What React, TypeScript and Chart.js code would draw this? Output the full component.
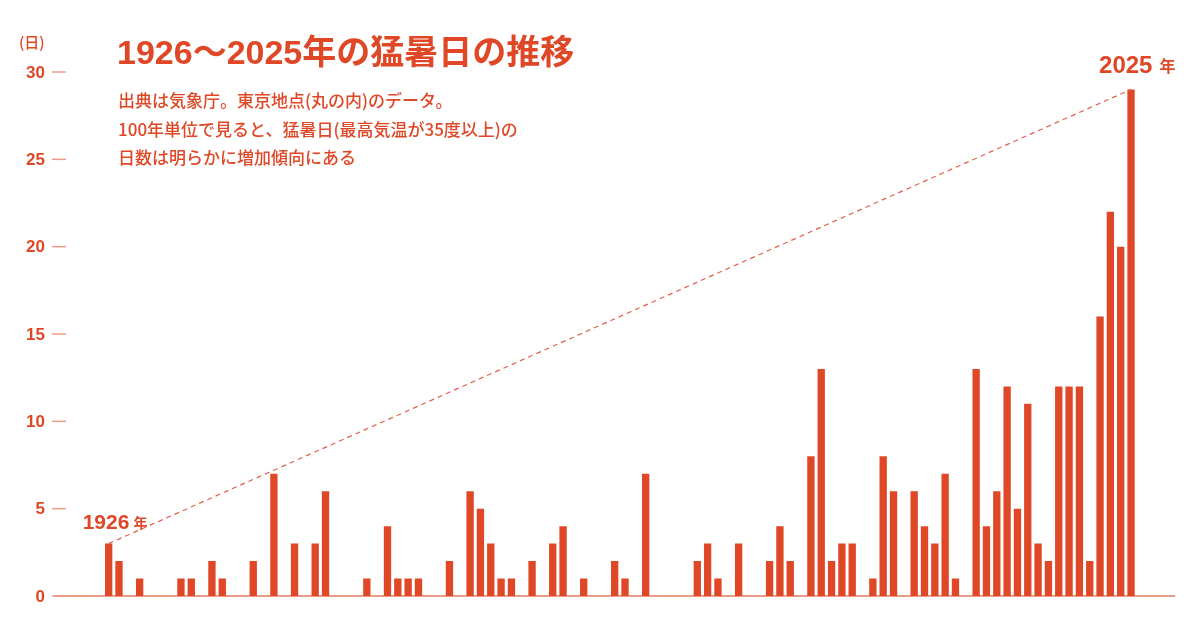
import { useEffect, useRef } from 'react';
import { Chart, ChartConfiguration, Plugin, registerables } from 'chart.js';

Chart.register(...registerables);

// 東京（丸の内）の猛暑日日数、1926〜2025年
const years: string[] = Array.from({ length: 100 }, (_, i) => String(1926 + i));
const hotDays: number[] = [
  3, 2, 0, 1, 0, 0, 0, 1, 1, 0, // 1926-1935
  2, 1, 0, 0, 2, 0, 7, 0, 3, 0, // 1936-1945
  3, 6, 0, 0, 0, 1, 0, 4, 1, 1, // 1946-1955
  1, 0, 0, 2, 0, 6, 5, 3, 1, 1, // 1956-1965
  0, 2, 0, 3, 4, 0, 1, 0, 0, 2, // 1966-1975
  1, 0, 7, 0, 0, 0, 0, 2, 3, 1, // 1976-1985
  0, 3, 0, 0, 2, 4, 2, 0, 8, 13, // 1986-1995
  2, 3, 3, 0, 1, 8, 6, 0, 6, 4, // 1996-2005
  3, 7, 1, 0, 13, 4, 6, 12, 5, 11, // 2006-2015
  3, 2, 12, 12, 12, 2, 16, 22, 20, 29, // 2016-2025
];
const yTicks: number[] = [0, 5, 10, 15, 20, 25, 30];

const RED = '#df4726';
const SALMON = '#eb9c88';
const JP = '"Noto Sans CJK JP", sans-serif';
const NUM = '"Liberation Sans", "Noto Sans CJK JP", sans-serif';

const last = hotDays.length - 1;
const trend = hotDays.map((v, i) => (i === 0 || i === last ? v : null));

const decor: Plugin<'bar'> = {
  id: 'decor',
  beforeDatasetsDraw(chart) {
    const { ctx, chartArea, scales } = chart;
    const y = scales.y;
    ctx.save();
    // baseline
    const y0 = y.getPixelForValue(0);
    ctx.strokeStyle = SALMON;
    ctx.lineWidth = 2;
    ctx.beginPath();
    ctx.moveTo(chartArea.left - 51, y0);
    ctx.lineTo(chartArea.right + 39, y0);
    ctx.stroke();
    // y ticks
    ctx.font = `bold 17px ${NUM}`;
    ctx.fillStyle = RED;
    ctx.textAlign = 'right';
    ctx.textBaseline = 'middle';
    ctx.lineWidth = 1.5;
    yTicks.forEach((t) => {
      const py = y.getPixelForValue(t);
      ctx.fillText(String(t), 45, py + 1);
      if (t !== 0) {
        ctx.beginPath();
        ctx.moveTo(52, py);
        ctx.lineTo(66, py);
        ctx.stroke();
      }
    });
    ctx.restore();
  },
  afterDatasetsDraw(chart) {
    const { ctx, scales } = chart;
    const x = scales.x;
    const y = scales.y;
    const label = (i: number, dx: number, dy: number, size: number, kSize: number, gap: number) => {
      const px = x.getPixelForValue(i) + dx;
      const py = y.getPixelForValue(hotDays[i]) + dy;
      ctx.save();
      ctx.fillStyle = RED;
      ctx.textBaseline = 'alphabetic';
      ctx.textAlign = 'left';
      ctx.font = `bold ${size}px ${NUM}`;
      const yr = years[i];
      ctx.fillText(yr, px, py);
      const w = ctx.measureText(yr).width;
      ctx.font = `bold ${kSize}px ${JP}`;
      ctx.fillText('年', px + w + gap, py - 1);
      ctx.restore();
    };
    label(0, -26, -15, 21, 14, 4);
    label(last, -32, -16, 24, 16, 7);
  },
};

export default function App() {
  const canvasRef = useRef<HTMLCanvasElement>(null);

  useEffect(() => {
    if (!canvasRef.current) return;
    const config: ChartConfiguration<'bar'> = {
      type: 'bar',
      data: {
        labels: years,
        datasets: [
          {
            type: 'line' as any,
            label: 'trend',
            data: trend as any,
            borderColor: '#e0604c',
            borderWidth: 1.2,
            borderDash: [5, 4],
            pointRadius: 0,
            spanGaps: true,
            order: 0,
          } as any,
          {
            label: '猛暑日',
            data: hotDays,
            backgroundColor: RED,
            borderWidth: 0,
            barPercentage: 0.71,
            categoryPercentage: 1,
            order: 1,
          },
        ],
      },
      options: {
        responsive: false,
        animation: false,
        layout: { padding: { left: 103.5, right: 63.8, top: 72, bottom: 34 } },
        plugins: { legend: { display: false }, tooltip: { enabled: false } },
        scales: {
          x: { display: false, offset: true },
          y: { display: false, min: 0, max: 30 },
        },
      },
      plugins: [decor],
    };
    const chart = new Chart(canvasRef.current, config);
    return () => chart.destroy();
  }, []);

  return (
    <div style={{ position: 'absolute', left: 0, top: 0, width: 1200, height: 630, background: '#fff', color: RED }}>
      <canvas ref={canvasRef} width={1200} height={630} style={{ position: 'absolute', left: 0, top: 0 }} />
      <div style={{ position: 'absolute', left: 19, top: 33, fontFamily: JP, fontSize: 15, lineHeight: '18px', fontWeight: 500 }}>
        (日)
      </div>
      <div style={{ position: 'absolute', left: 117, top: 34, fontFamily: NUM, fontSize: 34, lineHeight: '36px', fontWeight: 'bold', whiteSpace: 'nowrap' }}>
        1926～2025年の猛暑日の推移
      </div>
      <div style={{ position: 'absolute', left: 118, top: 86, fontFamily: JP, fontSize: 17, lineHeight: '28.5px', fontWeight: 500, whiteSpace: 'nowrap' }}>
        <div>出典は気象庁。東京地点(丸の内)のデータ。</div>
        <div>100年単位で見ると、猛暑日(最高気温が35度以上)の</div>
        <div>日数は明らかに増加傾向にある</div>
      </div>
    </div>
  );
}
